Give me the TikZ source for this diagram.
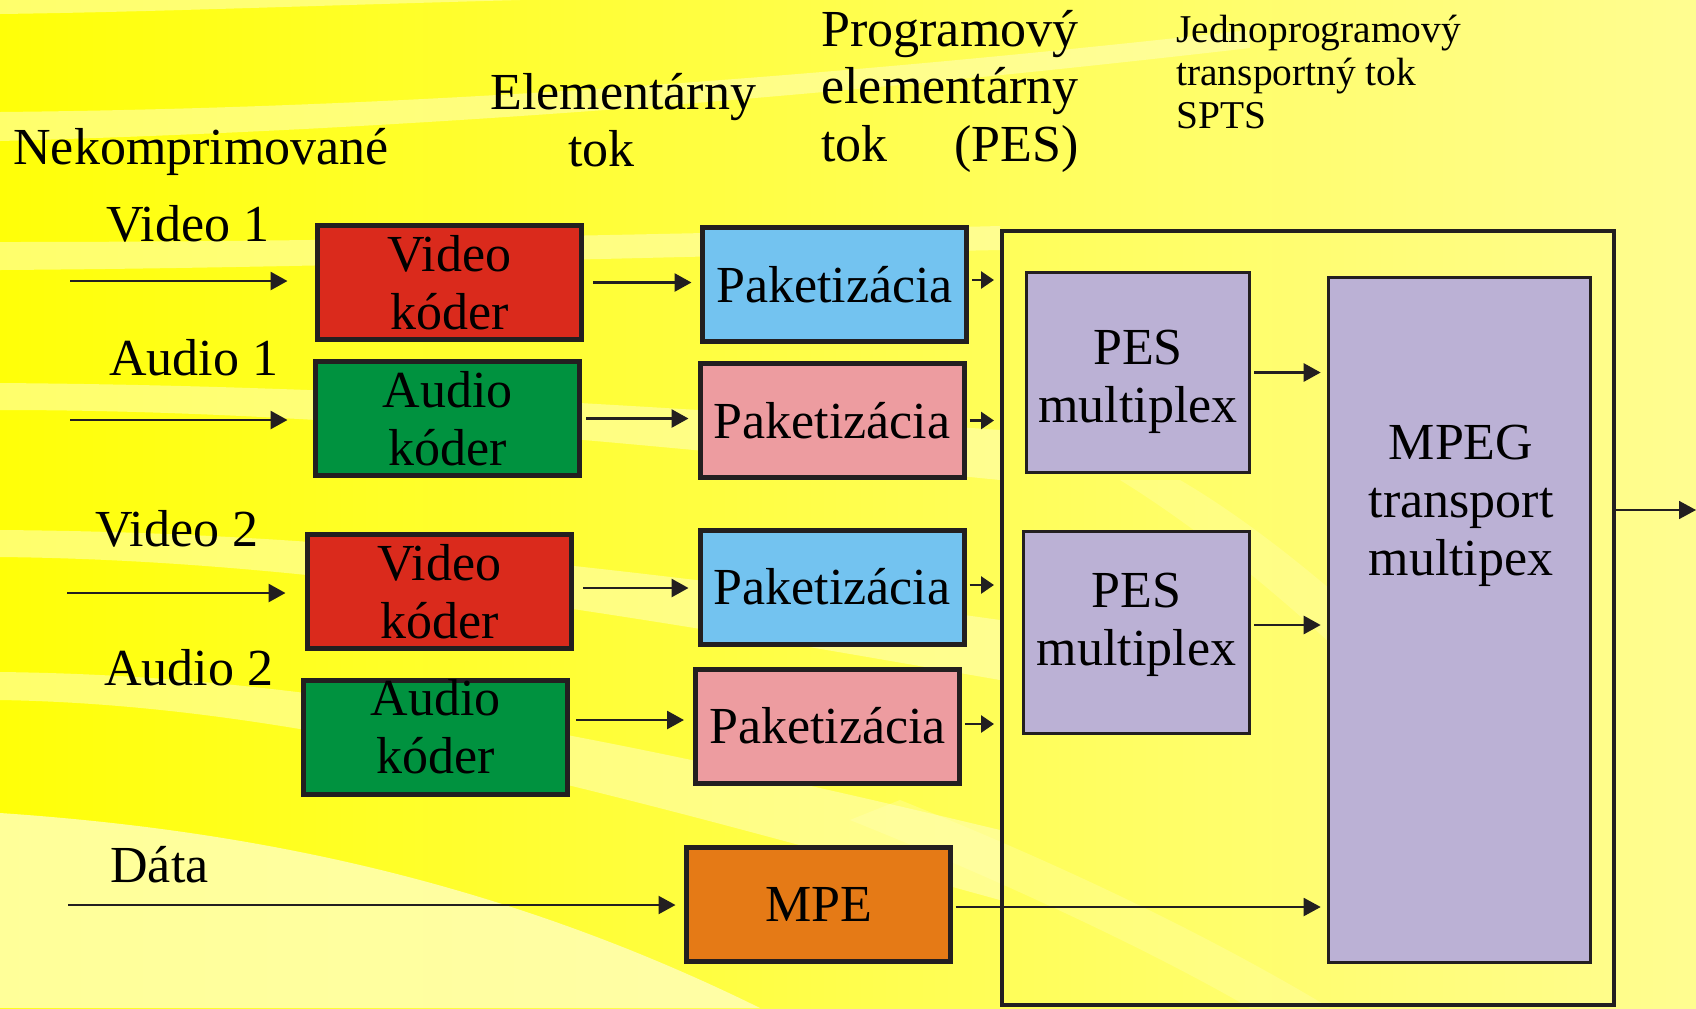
\documentclass[tikz,border=0pt]{standalone}
\usepackage{fontspec}
\setmainfont{Liberation Serif}
\usetikzlibrary{arrows.meta}

\definecolor{ink}{RGB}{35,31,32}
\definecolor{encred}{RGB}{218,42,28}
\definecolor{encgreen}{RGB}{0,146,63}
\definecolor{pktblue}{RGB}{115,195,240}
\definecolor{pktpink}{RGB}{237,156,160}
\definecolor{mpeorange}{RGB}{229,122,22}
\definecolor{muxlilac}{RGB}{187,177,213}
\definecolor{bgA}{RGB}{255,255,8}
\definecolor{bgB}{RGB}{255,255,95}
\definecolor{bgC}{RGB}{255,253,145}
\definecolor{streak}{RGB}{255,255,190}

\begin{document}
\begin{tikzpicture}[x=0.5pt,y=-0.5pt,
  big/.style={font=\fontsize{26}{29}\selectfont},
  small/.style={font=\fontsize{19.7}{21.5}\selectfont},
  boxtext/.style={big,align=center},
  cbox/.style={draw=ink,line width=2.5pt,minimum width=132pt,minimum height=57pt,
               inner sep=0pt,boxtext},
  mux/.style={draw=ink,line width=1.3pt,fill=muxlilac,inner sep=0pt},
  lbl/.style={big,anchor=base west,inner sep=0pt},
  arr/.style={draw=ink,line width=1.4pt,-{Triangle[length=8.5pt,width=9pt]}},
  shortarr/.style={draw=ink,line width=1.4pt,-{Triangle[length=6.5pt,width=8.5pt]}},
  thinarr/.style={draw=ink,line width=1pt,-{Triangle[length=8.5pt,width=9pt]}},
  band/.style={fill=streak,opacity=.55}
]
\useasboundingbox (0,0) rectangle (1696,1008);

% background: yellow fading to pale yellow, with light streaks
\shade[left color=bgA,middle color=bgB,right color=bgC] (0,0) rectangle (1696,1008);
\fill[band] (0,0) -- (520,0) .. controls (300,6) and (150,12) .. (0,14) -- cycle;
\fill[band] (0,112) .. controls (400,108) and (800,80) .. (1250,30)
  -- (1250,48) .. controls (800,100) and (400,130) .. (0,141) -- cycle;
\fill[band] (0,242) .. controls (300,242) and (600,236) .. (1000,226)
  -- (1000,250) .. controls (600,258) and (300,268) .. (0,270) -- cycle;
\fill[band] (0,383) .. controls (250,385) and (500,395) .. (1000,430)
  -- (1000,480) .. controls (600,440) and (300,410) .. (0,410) -- cycle;
\fill[band] (0,530) .. controls (250,532) and (500,550) .. (1000,620)
  -- (1000,680) .. controls (600,610) and (300,560) .. (0,557) -- cycle;
\fill[band] (0,672) .. controls (250,675) and (500,710) .. (1000,830)
  -- (1000,900) .. controls (600,790) and (300,705) .. (0,700) -- cycle;
\fill[fill=streak,opacity=.8] (0,813) .. controls (250,830) and (500,880) .. (760,1008)
  -- (0,1008) -- cycle;
\fill[fill=streak,opacity=.3] (1120,480) .. controls (1250,560) and (1400,700) .. (1500,820)
  -- (1560,820) .. controls (1450,690) and (1300,550) .. (1180,480) -- cycle;
\fill[fill=streak,opacity=.3] (850,820) .. controls (1000,880) and (1150,950) .. (1250,1008)
  -- (1330,1008) .. controls (1200,930) and (1050,860) .. (900,800) -- cycle;

% column headings
\node[lbl] (hraw) at (13,164) {Nekomprimované};
\node[lbl] (hes1) at (490,109) {Elementárny};
\node[lbl] (hes2) at (568,166) {tok};
\node[lbl] (hpes1) at (821,46) {Programový};
\node[lbl] (hpes2) at (821,103) {elementárny};
\node[lbl] (hpes3) at (821,161) {tok};
\node[big,anchor=base east,inner sep=0pt] (hpes4) at (1079,161) {(PES)};
\node[small,anchor=base west,inner sep=0pt] (hts1) at (1176,42) {Jednoprogramový};
\node[small,anchor=base west,inner sep=0pt] (hts2) at (1176,85) {transportný tok};
\node[small,anchor=base west,inner sep=0pt] (hts3) at (1176,128) {SPTS};

% input labels
\node[lbl] (lv1) at (106,241) {Video 1};
\node[lbl] (la1) at (109,375) {Audio 1};
\node[lbl] (lv2) at (95,546) {Video 2};
\node[lbl] (la2) at (104,685) {Audio 2};
\node[lbl] (ld) at (110,882) {Dáta};

% encoders
\node[cbox,fill=encred] (vk1) at (449.5,282.5) {Video\\kóder};
\node[cbox,fill=encgreen] (ak1) at (447.5,418.5) {Audio\\kóder};
\node[cbox,fill=encred] (vk2) at (439.5,591.5) {Video\\kóder};
\node[cbox,fill=encgreen,label={[boxtext,yshift=5pt]center:{Audio\\kóder}}] (ak2) at (435.5,737) {};

% packetizers
\node[cbox,fill=pktblue] (pk1) at (834.5,284.5) {Paketizácia};
\node[cbox,fill=pktpink] (pk2) at (832,420.5) {Paketizácia};
\node[cbox,fill=pktblue] (pk3) at (832,587) {Paketizácia};
\node[cbox,fill=pktpink] (pk4) at (827.5,726) {Paketizácia};

% data encapsulation
\node[cbox,fill=mpeorange] (mpe) at (818.5,904.5) {MPE};

% SPTS multiplexer frame
\node[draw=ink,line width=2pt,minimum width=306pt,minimum height=387pt,inner sep=0pt]
  (frame) at (1308,618) {};
\node[mux,minimum width=111.5pt,minimum height=100pt,
      label={[boxtext,yshift=-4.5pt]center:{PES\\multiplex}}] (pes1) at (1138,372.5) {};
\node[mux,minimum width=113pt,minimum height=101pt,
      label={[boxtext,yshift=4pt]center:{PES\\multiplex}}] (pes2) at (1136.5,632.5) {};
\node[mux,minimum width=131pt,minimum height=342.5pt] (mpeg) at (1459.5,620) {};
\node[boxtext,inner sep=0pt] (mpegtxt) at (1461,506) {MPEG\\transport\\multipex};

% inputs
\coordinate (v1src) at (70,281);
\coordinate (a1src) at (70,420);
\coordinate (v2src) at (67,593);
\coordinate (dsrc) at (68,905);
\coordinate (out) at (1696,510);

\draw[arr,shorten >=13.75pt] (v1src) -- (vk1.west |- v1src);
\draw[arr,shorten >=12.75pt] (a1src) -- (ak1.west |- a1src);
\draw[arr,shorten >=9.75pt] (v2src) -- (vk2.west |- v2src);
\draw[thinarr,line width=1.1pt,shorten >=4.25pt] (dsrc) -- (mpe.west |- dsrc);

% encoder -> packetizer
\draw[arr,shorten <=4.5pt,shorten >=4.25pt] (vk1.east) -- (vk1.east -| pk1.west);
\draw[arr,shorten <=2pt,shorten >=4.5pt] (ak1.east) -- (ak1.east -| pk2.west);
\draw[arr,shorten <=4.5pt,shorten >=4.5pt] ([yshift=1.75pt]vk2.east) -- ([yshift=1.75pt]vk2.east -| pk3.west);
\draw[arr,shorten <=3pt,shorten >=4.5pt] ([yshift=8.5pt]ak2.east) -- ([yshift=8.5pt]ak2.east -| pk4.west);

% packetizer -> multiplexer frame
\draw[shortarr,shorten <=1.5pt,shorten >=3pt] ([yshift=2.25pt]pk1.east) -- ([yshift=2.25pt]pk1.east -| frame.west);
\draw[shortarr,shorten <=1.5pt,shorten >=3pt] (pk2.east) -- (pk2.east -| frame.west);
\draw[shortarr,shorten <=1.5pt,shorten >=3pt] ([yshift=1pt]pk3.east) -- ([yshift=1pt]pk3.east -| frame.west);
\draw[shortarr,shorten <=1.5pt,shorten >=3pt] ([yshift=1pt]pk4.east) -- ([yshift=1pt]pk4.east -| frame.west);

% into the transport multiplexer
\draw[arr,shorten <=1.75pt,shorten >=3.25pt] (pes1.east) -- (pes1.east -| mpeg.west);
\draw[arr,shorten <=1.75pt,shorten >=3.25pt] ([yshift=3.75pt]pes2.east) -- ([yshift=3.75pt]pes2.east -| mpeg.west);
\draw[thinarr,shorten <=1.25pt,shorten >=3.25pt] ([yshift=-1.25pt]mpe.east) -- ([yshift=-1.25pt]mpe.east -| mpeg.west);

% output
\draw[thinarr,line width=0.8pt] (frame.east |- out) -- (out);
\end{tikzpicture}
\end{document}
